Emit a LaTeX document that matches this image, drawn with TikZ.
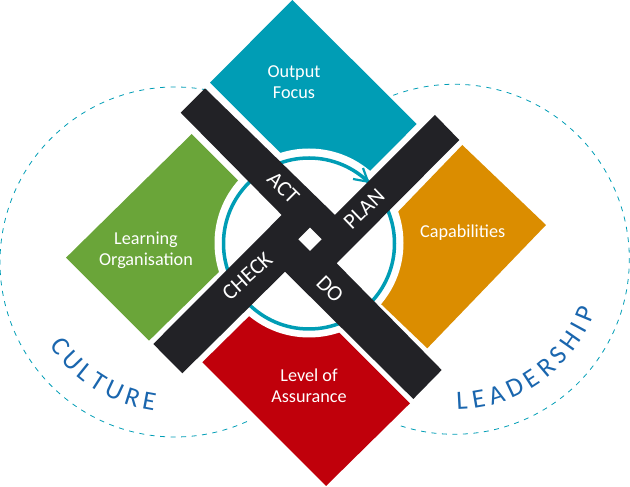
\documentclass[tikz,border=0pt]{standalone}
\usepackage{fontspec}
\setmainfont{Carlito}
\usetikzlibrary{decorations.text}
\definecolor{tealblue}{HTML}{009DB5}
\definecolor{leafgreen}{HTML}{6AA539}
\definecolor{amber}{HTML}{DB8D00}
\definecolor{crimson}{HTML}{C0000B}
\definecolor{barblack}{HTML}{222226}
\definecolor{wordblue}{HTML}{1A66AE}

\begin{document}
\begin{tikzpicture}[x=1pt, y=1pt]

  \tikzstyle{label}=[text=white, align=center, font=\fontsize{18.2}{21}\selectfont]
  \tikzstyle{barlabel}=[text=white, font=\fontsize{22}{22}\selectfont]
  \tikzstyle{loop}=[tealblue, line width=.8pt, dash pattern=on 5pt off 5.5pt]
  \tikzstyle{ring}=[tealblue, line width=3.5pt]
  \tikzstyle{curved}=[decorate, decoration={text along path, text align={fit to path},
    text={|\fontsize{26.5}{26.5}\selectfont\color{wordblue}|#1}}]

  \useasboundingbox (0,0) rectangle (630,487);

  % dashed loops
  \draw [loop] ([shift={(175,225)}]79.5:175) arc [start angle=79.5, end angle=296, radius=175];
  \draw [loop] ([shift={(454.3,227.7)}]110.4:175) arc [start angle=110.4, end angle=-108.6, radius=175];

  % four blocks
  \fill [tealblue] (292.3,487) -- (416.7,363) -- (334.4,280.3) -- (210,404.3) -- cycle;
  \fill [leafgreen] (191.7,353) -- (66,229.3) -- (149,146.3) -- (274.7,270) -- cycle;
  \fill [amber] (462.3,342) -- (546,262) -- (427.3,138.7) -- (343.6,218.7) -- cycle;
  \fill [crimson] (202.3,124.7) -- (326,1) -- (410,83.7) -- (286.3,207.4) -- cycle;

  \fill [white] (309,244) circle [radius=94.5];
  \draw [ring] (309,243.5) circle [radius=85.5];
  \draw [ring, line width=2.2pt] (353,308) -- (368,305.3) -- (363,319);

  % cross
  \fill [barblack] (205,398.7) -- (335,272) -- (435,372) -- (459.3,347) -- (336.7,223.7)
    -- (441.7,117) -- (413.3,88) -- (285,215.3) -- (182.3,113.7) -- (153.3,143)
    -- (281.7,272) -- (180.7,374.3) -- cycle;
  \fill [white] (310,259.3) -- (321.7,247.7) -- (310,236) -- (298.3,247.7) -- cycle;

  \node [label] (output) at (294,405) {Output \\ Focus};
  \node [label] (learning) at (146,237) {Learning \\ Organisation};
  \node [label] (capabilities) at (462.7,254.5) {Capabilities};
  \node [label] (assurance) at (309,101) {Level of \\ Assurance};

  \node [barlabel, rotate=-45] (act) at (283.3,299) {ACT};
  \node [barlabel, rotate=44] (plan) at (364,278) {PLAN};
  \node [barlabel, rotate=42] (check) at (247.3,211) {CHECK};
  \node [barlabel, rotate=-45] (do) at (330,198) {DO};

  \path [curved=CULTURE] ([shift={(175,225)}]213.5:150.5) arc [start angle=213.5, end angle=262, radius=150.5];
  \path [curved=LEADERSHIP] ([shift={(454.3,227.7)}]271:150.5) arc [start angle=271, end angle=340, radius=150.5];
\end{tikzpicture}
\end{document}
